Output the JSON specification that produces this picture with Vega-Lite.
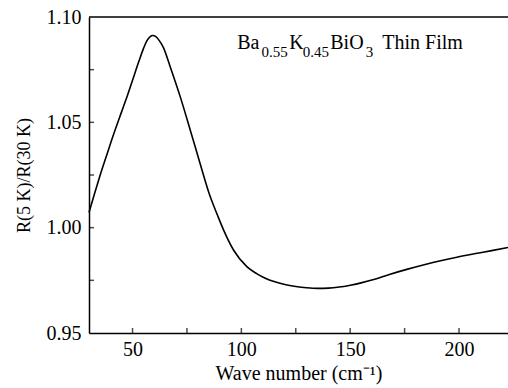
{
  "$schema": "https://vega.github.io/schema/vega-lite/v6.json",
  "width": 419,
  "height": 316,
  "autosize": {"type": "none"},
  "padding": {"left": 89, "top": 17, "right": 0, "bottom": 55},
  "background": "white",
  "config": {
    "view": {"stroke": null},
    "axis": {
      "grid": false,
      "ticks": false,
      "domainColor": "black",
      "domainWidth": 1.5,
      "labelColor": "black",
      "titleColor": "black",
      "labelFont": "Liberation Serif",
      "titleFont": "Liberation Serif",
      "titleFontWeight": "normal",
      "labelFontSize": 20,
      "titleFontSize": 20
    }
  },
  "datasets": {
    "curve": [
      {"wn": 30, "r": 1.0072},
      {"wn": 32.5, "r": 1.0160},
      {"wn": 35, "r": 1.0245},
      {"wn": 38, "r": 1.0340},
      {"wn": 41, "r": 1.0434},
      {"wn": 44, "r": 1.0522},
      {"wn": 47, "r": 1.0608},
      {"wn": 50, "r": 1.0700},
      {"wn": 53, "r": 1.0792},
      {"wn": 55, "r": 1.0850},
      {"wn": 56.5, "r": 1.0886},
      {"wn": 58, "r": 1.0906},
      {"wn": 59.3, "r": 1.0912},
      {"wn": 60.7, "r": 1.0907},
      {"wn": 62.3, "r": 1.0888},
      {"wn": 64.2, "r": 1.0855},
      {"wn": 67.3, "r": 1.0764},
      {"wn": 71.9, "r": 1.0622},
      {"wn": 76.5, "r": 1.0464},
      {"wn": 81.0, "r": 1.0306},
      {"wn": 85.6, "r": 1.0150},
      {"wn": 89, "r": 1.0060},
      {"wn": 92, "r": 0.9985},
      {"wn": 96.4, "r": 0.9894},
      {"wn": 102.5, "r": 0.9815},
      {"wn": 107, "r": 0.9782},
      {"wn": 111, "r": 0.9760},
      {"wn": 115, "r": 0.9744},
      {"wn": 120, "r": 0.9730},
      {"wn": 125, "r": 0.9721},
      {"wn": 130, "r": 0.9715},
      {"wn": 135, "r": 0.9712},
      {"wn": 140, "r": 0.9713},
      {"wn": 145, "r": 0.9718},
      {"wn": 150, "r": 0.9727},
      {"wn": 155, "r": 0.9738},
      {"wn": 160.8, "r": 0.9754},
      {"wn": 168, "r": 0.9778},
      {"wn": 176, "r": 0.9802},
      {"wn": 184, "r": 0.9824},
      {"wn": 191.5, "r": 0.9843},
      {"wn": 199, "r": 0.9860},
      {"wn": 207, "r": 0.9876},
      {"wn": 215, "r": 0.9891},
      {"wn": 222.5, "r": 0.9906}
    ],
    "border": [{"r": 1.10}],
    "xTicks": [{"wn": 50}, {"wn": 75}, {"wn": 100}, {"wn": 125}, {"wn": 150}, {"wn": 175}, {"wn": 200}],
    "yTicks": [{"r": 0.975}, {"r": 1.0}, {"r": 1.025}, {"r": 1.05}, {"r": 1.075}],
    "mainText": [
      {"wn": 98.06, "r": 1.0847, "t": "Ba"},
      {"wn": 121.97, "r": 1.0847, "t": "K"},
      {"wn": 140.83, "r": 1.0847, "t": "BiO"},
      {"wn": 164.74, "r": 1.0847, "t": "Thin Film"}
    ],
    "subText": [
      {"wn": 109.3, "r": 1.0812, "t": "0.55"},
      {"wn": 128.2, "r": 1.0812, "t": "0.45"},
      {"wn": 157.2, "r": 1.0812, "t": "3"}
    ]
  },
  "layer": [
    {
      "data": {"name": "curve"},
      "mark": {"type": "line", "color": "black", "strokeWidth": 1.6, "interpolate": "monotone"},
      "encoding": {
        "x": {
          "field": "wn", "type": "quantitative",
          "scale": {"domain": [30, 222.5], "nice": false, "zero": false},
          "axis": {
            "values": [50, 100, 150, 200],
            "labelPadding": 6,
            "title": "Wave number (cm⁻¹)",
            "titlePadding": 4
          }
        },
        "y": {
          "field": "r", "type": "quantitative",
          "scale": {"domain": [0.95, 1.10], "nice": false, "zero": false},
          "axis": {
            "values": [0.95, 1.0, 1.05, 1.10],
            "format": ".2f",
            "labelPadding": 8,
            "title": "R(5 K)/R(30 K)",
            "titleFontSize": 18,
            "titlePadding": 13
          }
        }
      }
    },
    {
      "data": {"name": "border"},
      "mark": {"type": "rule", "color": "black", "strokeWidth": 1.5},
      "encoding": {"y": {"field": "r", "type": "quantitative"}}
    },
    {
      "data": {"name": "xTicks"},
      "mark": {"type": "tick", "orient": "vertical", "color": "black", "size": 10, "thickness": 1.5, "clip": true},
      "encoding": {
        "x": {"field": "wn", "type": "quantitative"},
        "y": {"datum": 0.95, "type": "quantitative"}
      }
    },
    {
      "data": {"name": "yTicks"},
      "mark": {"type": "tick", "orient": "horizontal", "color": "black", "size": 10, "thickness": 1.5, "clip": true},
      "encoding": {
        "x": {"datum": 30, "type": "quantitative"},
        "y": {"field": "r", "type": "quantitative"}
      }
    },
    {
      "data": {"name": "mainText"},
      "mark": {"type": "text", "font": "Liberation Serif", "fontSize": 20, "align": "left", "baseline": "alphabetic", "color": "black"},
      "encoding": {
        "x": {"field": "wn", "type": "quantitative"},
        "y": {"field": "r", "type": "quantitative"},
        "text": {"field": "t"}
      }
    },
    {
      "data": {"name": "subText"},
      "mark": {"type": "text", "font": "Liberation Serif", "fontSize": 15, "align": "left", "baseline": "alphabetic", "color": "black"},
      "encoding": {
        "x": {"field": "wn", "type": "quantitative"},
        "y": {"field": "r", "type": "quantitative"},
        "text": {"field": "t"}
      }
    }
  ]
}
